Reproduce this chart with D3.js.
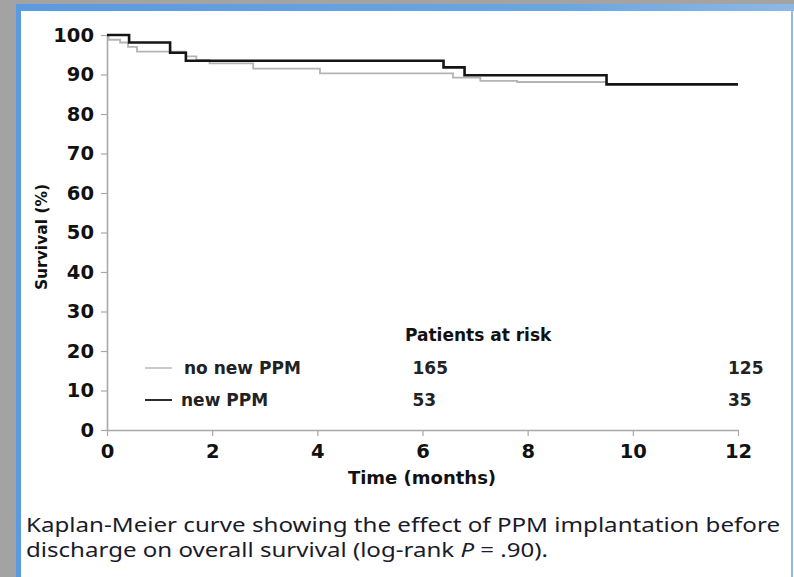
<!DOCTYPE html>
<html>
<head>
<meta charset="utf-8">
<script src="https://cdn.jsdelivr.net/npm/d3@7"></script>
<style>
  body { margin: 0; background: #a3a3a3; }
  svg { display: block; }
</style>
</head>
<body>
<div id="chart"></div>
<script>
(function () {

  /* data */
  // Kaplan-Meier steps: [month, survival %]
  var noNewPPM = [[0, 100], [0.03, 98.8], [0.25, 98.1], [0.4, 97.0], [0.57, 95.8],
    [1.5, 94.6], [1.7, 93.7], [1.95, 92.8], [2.78, 91.5], [4.05, 90.3],
    [6.58, 89.2], [7.1, 88.4], [7.8, 88.1], [9.5, 87.6], [12, 87.6]];
  var newPPM = [[0, 100], [0.42, 98.1], [1.2, 95.5], [1.5, 93.5], [6.4, 91.8],
    [6.8, 89.8], [9.5, 87.5], [12, 87.5]];

  var groups = ["no new PPM", "new PPM"];
  var atRiskMonths = [6, 12];
  var atRisk = [[165, 125], [53, 35]];

  var yTicks = [0, 10, 20, 30, 40, 50, 60, 70, 80, 90, 100];
  var xTicks = [0, 2, 4, 6, 8, 10, 12];

  var width = 794,
      height = 577;

  var svg = d3.select('#chart')
    .append("svg")
    .attr('width', width)
    .attr('height', height)

  /* window frame */
  var defs = svg.append("defs");
  var grad = defs.append("linearGradient").attr("id", "topbar")
  grad.append("stop").attr("offset", "0%").attr("stop-color", "#5b9ae0")
  grad.append("stop").attr("offset", "70%").attr("stop-color", "#6aa6e2")
  grad.append("stop").attr("offset", "100%").attr("stop-color", "#8cb8e4")

  svg.append("rect").attr("width", width).attr("height", height).attr("fill", "#a3a3a3")
  svg.append("rect").attr("x", 16).attr("y", 4).attr("width", width - 16).attr("height", height - 4)
    .attr("fill", "url(#topbar)")
  svg.append("rect").attr("x", 21).attr("y", 11).attr("width", width - 21).attr("height", height - 11)
    .attr("fill", "#ffffff")
  svg.append("line").attr("x1", 792).attr("x2", 792).attr("y1", 11).attr("y2", height)
    .attr("stroke", "#6aa6e2").attr("stroke-width", 1.5)

  /* scales */
  var x = d3.scaleLinear().domain([0, 12]).range([107, 738])
  var y = d3.scaleLinear().domain([0, 100]).range([430, 35])

  // wide bold face, like the stretched Calibri of the picture
  var chartFont = "'DejaVu Sans', Verdana, sans-serif";

  // y axis
  var yAxis = svg.append("g")
    .attr("transform", "translate(" + x(0) + ",0)")
    .call(d3.axisLeft(y).tickValues(yTicks).tickSize(6).tickSizeOuter(0).tickPadding(7))
  // x axis
  var xAxis = svg.append("g")
    .attr("transform", "translate(0," + y(0) + ")")
    .call(d3.axisBottom(x).tickValues(xTicks).tickSize(6).tickSizeOuter(0).tickPadding(8))

  ;[yAxis, xAxis].forEach(function (g) {
    g.select(".domain").attr("stroke", "#a8a8a8").attr("stroke-width", 1.6)
    g.selectAll(".tick line").attr("stroke", "#a8a8a8").attr("stroke-width", 1.2)
    g.selectAll(".tick text")
      .attr("fill", "#111")
      .style("font-family", chartFont)
      .style("font-weight", "bold")
      .style("font-size", "19.5px")
  })

  // axis titles
  svg.append("text")
    .attr("transform", "translate(47,237) rotate(-90)")
    .attr("text-anchor", "middle")
    .style("font-family", chartFont)
    .style("font-weight", "bold")
    .style("font-size", "15.5px")
    .attr("fill", "#111")
    .text("Survival (%)")

  svg.append("text")
    .attr("x", 422).attr("y", 484)
    .attr("text-anchor", "middle")
    .style("font-family", chartFont)
    .style("font-weight", "bold")
    .style("font-size", "18px")
    .attr("fill", "#111")
    .text("Time (months)")

  /* curves */
  var line = d3.line()
    .x(function (d) { return x(d[0]) })
    .y(function (d) { return y(d[1]) })
    .curve(d3.curveStepAfter)

  var colors = ["#b4b4b4", "#151515"];
  var widths = [1.8, 2.6];

  svg.append("path").datum(noNewPPM)
    .attr("d", line).attr("fill", "none")
    .attr("stroke", colors[0]).attr("stroke-width", widths[0])
  svg.append("path").datum(newPPM)
    .attr("d", line).attr("fill", "none")
    .attr("stroke", colors[1]).attr("stroke-width", widths[1])

  /* legend and patients at risk */
  svg.append("text")
    .attr("x", 405).attr("y", 341)
    .style("font-family", chartFont)
    .style("font-weight", "bold")
    .style("font-size", "17px")
    .attr("fill", "#111")
    .text("Patients at risk")

  var rowY = [368, 400];
  groups.forEach(function (name, i) {
    svg.append("line")
      .attr("x1", 145).attr("x2", 172)
      .attr("y1", rowY[i]).attr("y2", rowY[i])
      .attr("stroke", colors[i]).attr("stroke-width", i ? 1.8 : 1.4)
    svg.append("text")
      .attr("x", i ? 181 : 184).attr("y", rowY[i] + 6)
      .style("font-family", chartFont)
      .style("font-weight", "bold")
      .style("font-size", "17px")
      .attr("fill", "#222")
      .text(name)
    atRiskMonths.forEach(function (m, j) {
      svg.append("text")
        .attr("x", x(m) - 10).attr("y", rowY[i] + 6)
        .style("font-family", chartFont)
        .style("font-weight", "bold")
        .style("font-size", "17px")
        .attr("fill", "#222")
        .text(atRisk[i][j])
    })
  })

  /* caption */
  var capFont = "'Noto Sans', 'DejaVu Sans', sans-serif";
  svg.append("text")
    .attr("x", 26).attr("y", 532)
    .attr("textLength", 754).attr("lengthAdjust", "spacingAndGlyphs")
    .style("font-family", capFont)
    .style("font-size", "20px")
    .attr("fill", "#1a1a2a")
    .text("Kaplan-Meier curve showing the effect of PPM implantation before")

  var cap2 = svg.append("text")
    .attr("x", 26).attr("y", 557)
    .attr("textLength", 522).attr("lengthAdjust", "spacingAndGlyphs")
    .style("font-family", capFont)
    .style("font-size", "20px")
    .attr("fill", "#1a1a2a")
  cap2.append("tspan").text("discharge on overall survival (log-rank ")
  cap2.append("tspan").style("font-style", "italic").text("P")
  cap2.append("tspan").text(" = .90).")

})()
</script>
</body>
</html>
